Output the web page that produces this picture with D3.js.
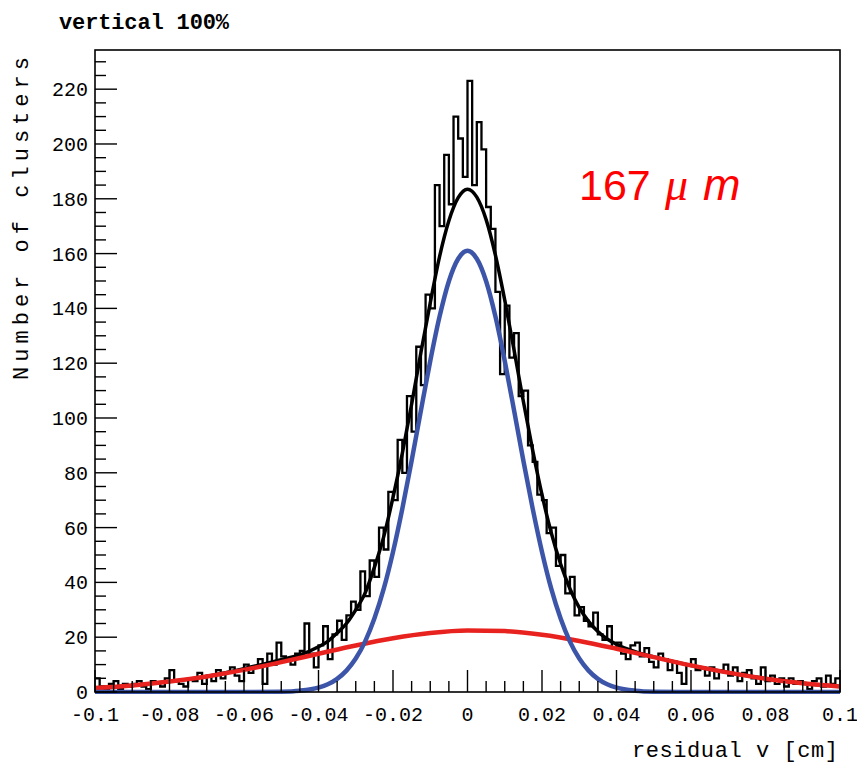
<!DOCTYPE html>
<html><head><meta charset="utf-8">
<script src="https://cdn.jsdelivr.net/npm/d3@7/dist/d3.min.js"></script>
<style>body{margin:0;background:#fff}</style>
</head><body>
<svg id="c" width="857" height="763"></svg>
<script>
// ---- data ----
const histStart = -0.1;
const binWidth = 0.00125;
const counts = [
  5, 2, 1, 3, 4, 1, 3, 2,
  3, 4, 2, 1, 4, 3, 2, 5,
  8, 4, 3, 2, 5, 4, 7, 3,
  6, 4, 8, 5, 7, 9, 6, 4,
  10, 7, 9, 12, 3, 14, 10, 18,
  13, 12, 10, 14, 15, 25, 14, 9,
  17, 24, 12, 21, 26, 19, 28, 33,
  30, 44, 35, 48, 42, 60, 52, 73,
  70, 92, 80, 108, 95, 126, 112, 145,
  140, 185, 170, 196, 178, 210, 202, 188,
  223, 185, 208, 198, 177, 169, 146, 116,
  141, 122, 131, 108, 110, 90, 84, 72,
  70, 58, 60, 46, 50, 36, 42, 28,
  31, 26, 24, 29, 21, 19, 24, 16,
  18, 14, 12, 17, 18, 13, 16, 11,
  9, 14, 12, 8, 11, 7, 3, 10,
  12, 8, 9, 6, 9, 5, 8, 10,
  6, 9, 4, 7, 8, 5, 3, 9,
  4, 6, 3, 5, 2, 5, 3, 4,
  3, 1, 4, 5, 2, 6, 3, 5
];

const fitX = [-0.1, -0.09, -0.08, -0.07, -0.06, -0.05, -0.045, -0.04, -0.0375, -0.035, -0.0325, -0.03, -0.0275, -0.025, -0.0225, -0.02, -0.0175, -0.015, -0.0125, -0.01, -0.0075, -0.005, -0.0025, 0,
  0.0025, 0.005, 0.0075, 0.01, 0.0125, 0.015, 0.0175, 0.02, 0.0225, 0.025, 0.0275, 0.03, 0.0325, 0.035, 0.0375, 0.04, 0.045, 0.05, 0.06, 0.07, 0.08, 0.09, 0.1];
const fitTotal = [1.5, 2.4, 3.8, 5.7, 8.5, 11.8, 13.5, 16.5, 18.5, 21.5, 25, 30, 36.1, 45.5, 56.6, 71, 87.1, 105, 124.0, 142, 158.9, 172, 180.4, 183.5,
  180.6, 172.4, 159.4, 143, 124.8, 106, 88.2, 72, 58.0, 46.7, 37.7, 30.8, 25.8, 22.1, 19.35, 17.4, 14.7, 12.8, 9.7, 7.1, 4.9, 3.2, 2.0];
const fitNarrow = [0, 0, 0, 0, 0, 0.12, 0.48, 1.6, 2.8, 4.8, 7.8, 12.2, 18.4, 26.8, 37.6, 51.1, 66.9, 84.4, 102.8, 120.8, 137.0, 149.9, 158.1, 161,
  158.1, 149.9, 137.0, 120.8, 102.8, 84.4, 66.9, 51.1, 37.6, 26.8, 18.4, 12.2, 7.8, 4.8, 2.8, 1.6, 0.48, 0.12, 0, 0, 0, 0, 0];

const wideX = [-0.1, -0.09, -0.08, -0.07, -0.06, -0.05, -0.04, -0.03, -0.02, -0.01, 0, 0.01, 0.02, 0.03, 0.04, 0.05, 0.06, 0.07, 0.08, 0.09, 0.1];
const fitWide = [1.45, 2.41, 3.80, 5.68, 8.07, 10.9, 13.96, 16.98, 19.63, 21.54, 22.45, 22.22, 20.88, 18.64, 15.80, 12.72, 9.72, 7.06, 4.87, 3.19, 1.98];

const yTicks = [0, 20, 40, 60, 80, 100, 120, 140, 160, 180, 200, 220];
const yTickLabels = ["0", "20", "40", "60", "80", "100", "120", "140", "160", "180", "200", "220"];
const xTicks = [-0.1, -0.08, -0.06, -0.04, -0.02, 0, 0.02, 0.04, 0.06, 0.08, 0.1];
const xTickLabels = ["-0.1", "-0.08", "-0.06", "-0.04", "-0.02", "0", "0.02", "0.04", "0.06", "0.08", "0.1"];

const titleText = "vertical 100%";
const yTitle = "Number of clusters";
const xTitle = "residual v [cm]";
const annotNumber = "167";
const annotMu = "\u03BC";
const annotUnit = "m";

// ---- layout ----
const L = 95, R = 840, T = 50, B = 692;
const svg = d3.select("#c");
const x = d3.scaleLinear().domain([-0.1, 0.1]).range([L, R]);
const y = d3.scaleLinear().domain([0, 234.3]).range([B, T]);
const mono = "'Liberation Mono','DejaVu Sans Mono',monospace";

svg.append("defs").append("clipPath").attr("id", "clip")
  .append("rect").attr("x", L).attr("y", T - 2).attr("width", R - L).attr("height", B - T + 4);

const plot = svg.append("g").attr("clip-path", "url(#clip)");

// histogram
const histPts = counts.map((c, i) => [histStart + i * binWidth, c]);
histPts.push([histStart + counts.length * binWidth, counts[counts.length - 1]]);
const stepLine = d3.line().x(d => x(d[0])).y(d => y(d[1])).curve(d3.curveStepAfter);
plot.append("path").attr("d", stepLine(histPts))
  .attr("fill", "none").attr("stroke", "#000").attr("stroke-width", 2.3);

const smooth = d3.line().x(d => x(d[0])).y(d => y(d[1])).curve(d3.curveMonotoneX);
plot.append("path").attr("d", smooth(fitX.map((v, i) => [v, fitTotal[i]])))
  .attr("fill", "none").attr("stroke", "#000").attr("stroke-width", 3.5);
plot.append("path").attr("d", smooth(wideX.map((v, i) => [v, fitWide[i]])))
  .attr("fill", "none").attr("stroke", "#e8231f").attr("stroke-width", 4.5);
plot.append("path").attr("d", smooth(fitX.map((v, i) => [v, fitNarrow[i]])))
  .attr("fill", "none").attr("stroke", "#3d55a8").attr("stroke-width", 4.5);

// frame
svg.append("rect").attr("x", L).attr("y", T).attr("width", R - L).attr("height", B - T)
  .attr("fill", "none").attr("stroke", "#000").attr("stroke-width", 1.6);

// y ticks (major every 20, minor every 5)
const yMinor = d3.range(0, 234, 5);
svg.append("g").selectAll("line").data(yMinor).join("line")
  .attr("x1", L).attr("x2", d => L + (d % 20 === 0 ? 22 : 11))
  .attr("y1", d => y(d)).attr("y2", d => y(d))
  .attr("stroke", "#000").attr("stroke-width", 1.4);
svg.append("g").selectAll("text").data(yTicks).join("text")
  .attr("x", 88).attr("y", d => y(d) + 7)
  .attr("text-anchor", "end").attr("font-family", mono).attr("font-size", 20)
  .text((d, i) => yTickLabels[i]);

// x ticks (major every 0.02, minor every 0.005)
const xMinor = d3.range(0, 41).map(i => -0.1 + i * 0.005);
svg.append("g").selectAll("line").data(xMinor).join("line")
  .attr("x1", d => x(d)).attr("x2", d => x(d))
  .attr("y1", B).attr("y2", (d, i) => B - (i % 4 === 0 ? 22 : 11))
  .attr("stroke", "#000").attr("stroke-width", 1.4);
svg.append("g").selectAll("text").data(xTicks).join("text")
  .attr("x", d => x(d)).attr("y", 721)
  .attr("text-anchor", "middle").attr("font-family", mono).attr("font-size", 20)
  .text((d, i) => xTickLabels[i]);

// titles
svg.append("text").attr("x", 59).attr("y", 29)
  .attr("font-family", mono).attr("font-size", 22).attr("font-weight", "bold")
  .attr("textLength", 170).attr("lengthAdjust", "spacing").text(titleText);
svg.append("text").attr("transform", "translate(28,380) rotate(-90)")
  .attr("font-family", mono).attr("font-size", 22)
  .attr("textLength", 323).attr("lengthAdjust", "spacing").text(yTitle);
svg.append("text").attr("x", 838).attr("y", 757).attr("text-anchor", "end")
  .attr("font-family", mono).attr("font-size", 22)
  .attr("textLength", 206).attr("lengthAdjust", "spacing").text(xTitle);

// annotation
const annFont = "'Liberation Sans',Arial,sans-serif";
svg.append("text").attr("x", 579).attr("y", 200).attr("fill", "#ff0000")
  .attr("font-family", annFont).attr("font-size", 43).text(annotNumber);
svg.append("text").attr("x", 665).attr("y", 200).attr("fill", "#ff0000")
  .attr("font-family", "'Liberation Serif','Times New Roman',serif").attr("font-style", "italic")
  .attr("font-size", 46).text(annotMu);
svg.append("text").attr("x", 703).attr("y", 200).attr("fill", "#ff0000")
  .attr("font-family", annFont).attr("font-style", "italic").attr("font-size", 45).text(annotUnit);
</script>
</body></html>
